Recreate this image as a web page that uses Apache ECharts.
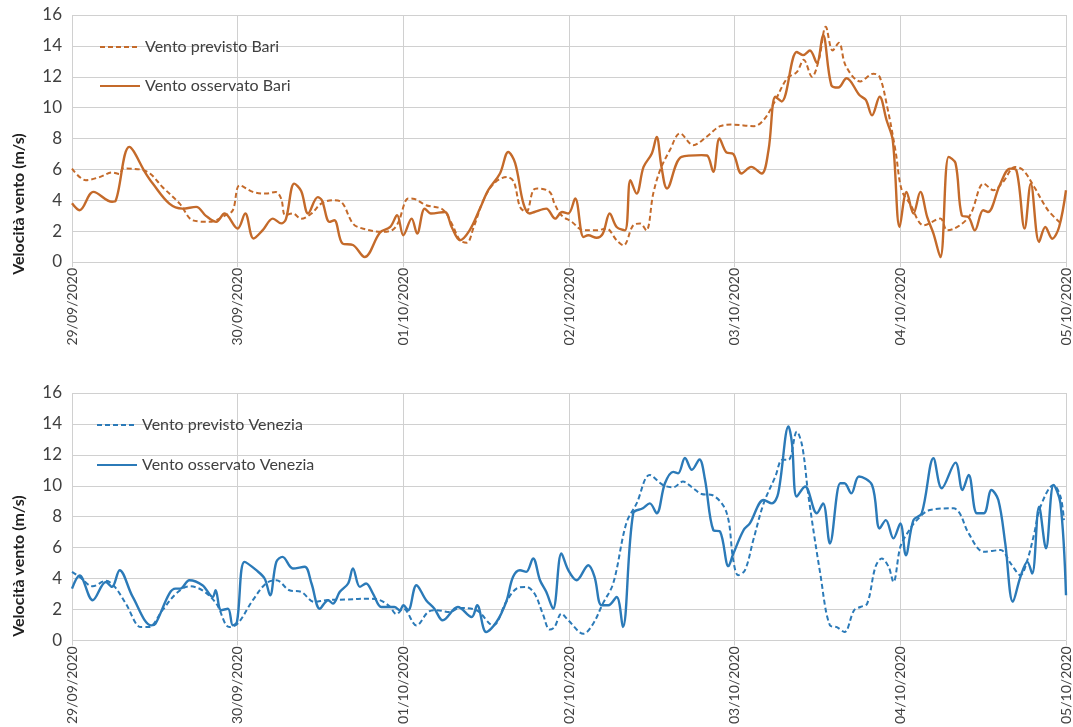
<!DOCTYPE html>
<html>
<head>
<meta charset="utf-8">
<script src="https://cdn.jsdelivr.net/npm/echarts@6/dist/echarts.min.js"></script>
<style>
  html, body { margin: 0; padding: 0; background: #fff; }
  #chart { width: 1073px; height: 727px; }
</style>
</head>
<body>
<div id="chart"></div>
<script>
// ore dall'inizio del 29/09/2020, etichette giornaliere
const dayLabels = ["29/09/2020", "30/09/2020", "01/10/2020", "02/10/2020", "03/10/2020", "04/10/2020", "05/10/2020"];
const yTicks = [0, 2, 4, 6, 8, 10, 12, 14, 16];
const yTitle = "Velocità vento (m/s)";

// [ora, m/s]
const bariPrevisto = [
  [0, 6.05], [2, 5.3], [4, 5.5], [5.8, 5.8], [6.9, 5.7], [7.4, 6.05], [9.8, 6.0], [11.3, 5.73], [13.1, 4.86],
  [15.6, 3.78], [17.5, 2.7], [19.9, 2.6], [22.3, 3.03], [23.3, 3.35], [24.3, 4.97], [26.2, 4.54], [28.1, 4.43],
  [29.5, 4.54], [30.3, 4.11], [30.9, 3.03], [32, 3.14], [33.2, 2.8], [34.7, 3.14], [36.1, 3.78], [37.8, 4.0],
  [39, 3.9], [40.7, 2.49], [42.1, 2.17], [45, 1.95], [46.5, 2.1], [47.3, 2.6], [48.7, 4.11], [49.4, 4.1],
  [51.3, 3.68], [53.7, 3.4], [55, 2.5], [56.2, 1.41], [57.2, 1.25], [58.2, 2.27], [59.6, 4.0], [61.1, 5.08],
  [63, 5.51], [64, 5.2], [64.9, 3.57], [65.8, 3.24], [66.8, 4.65], [67.4, 4.76], [69.2, 4.54], [69.9, 3.78],
  [70.9, 3.03], [72.4, 2.6], [74.1, 2.05], [76, 2.05], [77.4, 2.17], [78.9, 1.41], [79.9, 1.08], [81.3, 2.38],
  [82.3, 2.49], [83.2, 2.05], [84.2, 4.43], [85.2, 5.95], [86.6, 7.24], [88.1, 8.33], [90, 7.57], [91.9, 8.1],
  [93.9, 8.8], [95.7, 8.9], [98.8, 8.8], [100.2, 9.2], [101.7, 10.3], [103.6, 11.9], [105, 12.3], [106, 13.1],
  [107.2, 12.0], [108.2, 13.1], [109.2, 15.24], [110.2, 13.7], [111.1, 14.2], [112.1, 12.7], [114.2, 11.7],
  [116.1, 12.2], [117, 12.0], [118.1, 10.05], [119.3, 7.2], [120.2, 4.65], [121.4, 3.78], [123.4, 2.38],
  [125.8, 2.81], [126.8, 2.05], [129.9, 2.9], [132.1, 5.08], [133.5, 4.65], [134.9, 5.2], [136.6, 6.16],
  [137.8, 5.95], [139.4, 4.86], [141.4, 3.35], [143.3, 2.49]
];
const bariOsservato = [
  [0, 3.8], [1.1, 3.35], [3.1, 4.54], [5.8, 3.9], [6.3, 3.95], [8.3, 7.46], [10.7, 5.73], [11.7, 5.08],
  [14.1, 3.78], [16, 3.46], [18, 3.57], [19.4, 2.99], [20.9, 2.6], [22.1, 3.14], [24, 2.17], [25.1, 3.14],
  [26.3, 1.52], [27.6, 2.05], [29.1, 2.81], [30.3, 2.5], [31, 2.8], [32.2, 5.08], [33.2, 4.6], [34.2, 3.14],
  [35.6, 4.2], [36.2, 4.0], [37.3, 2.6], [38, 2.7], [39.2, 1.19], [40.7, 1.1], [42.4, 0.32], [44.6, 1.9],
  [46.1, 2.27], [47.1, 3.03], [48, 1.73], [49.2, 2.81], [50, 1.84], [51.1, 3.46], [52, 3.14], [54, 3.24],
  [55, 2.27], [56.2, 1.41], [57.6, 2.05], [59.1, 3.46], [60.3, 4.65], [62, 5.73], [63.2, 7.13], [64.2, 6.4],
  [65.4, 3.78], [66.3, 3.14], [67, 3.24], [68.7, 3.46], [70, 2.81], [71, 3.24], [71.9, 3.14], [72.9, 4.11],
  [74.1, 1.62], [74.8, 1.73], [76, 1.57], [76.9, 1.84], [77.9, 3.14], [78.9, 2.27], [80.1, 2.05], [80.9, 5.3],
  [81.8, 4.43], [82.8, 6.16], [84, 7.03], [84.7, 8.1], [85.4, 6.16], [86.2, 4.76], [88.3, 6.81], [91.2, 6.92],
  [92, 6.9], [92.9, 5.84], [93.8, 8.0], [94.8, 7.1], [95.8, 7.0], [97, 5.73], [98.4, 6.16], [99.9, 5.73],
  [100.9, 7.24], [101.9, 10.7], [102.8, 10.4], [105, 13.6], [105.9, 13.4], [106.9, 13.7], [107.9, 12.9],
  [108.8, 14.7], [110, 11.46], [111, 11.3], [112.2, 11.9], [114.1, 10.8], [115, 10.5], [115.9, 9.5], [117, 10.7],
  [118, 9.2], [118.9, 7.9], [119.9, 2.27], [120.9, 4.54], [121.9, 3.14], [122.9, 4.54], [123.9, 2.9],
  [124.8, 1.84], [125.8, 0.32], [127, 6.81], [128, 6.4], [128.9, 3.03], [129.9, 2.9], [130.8, 2.05], [132, 3.35],
  [132.7, 3.24], [134.4, 4.97], [135.9, 6.05], [136.8, 5.95], [138, 2.17], [138.9, 5.08], [140.1, 1.3],
  [141, 2.27], [142, 1.51], [143, 2.27], [144, 4.65]
];
const veneziaPrevisto = [
  [0, 4.43], [1.1, 4.1], [3, 3.5], [4.9, 3.85], [6.2, 3.46], [7.8, 2.38], [10, 0.86], [11.1, 0.86], [13.1, 1.95],
  [15.1, 3.03], [17, 3.5], [18.9, 3.24], [20.9, 2.38], [22.8, 0.86], [24, 1.08], [26.2, 2.6], [28.1, 3.68],
  [29.6, 3.89], [31.5, 3.24], [33.2, 3.14], [35.1, 2.49], [36.8, 2.6], [39.7, 2.64], [43.1, 2.7], [44.6, 2.6],
  [46, 2.2], [47, 1.7], [48, 2.05], [49.9, 0.97], [51.6, 1.84], [52.8, 1.95], [54.7, 1.84], [56.2, 2.1],
  [58.6, 1.95], [61, 0.97], [62.9, 2.49], [64.4, 3.35], [65.8, 3.46], [67, 3.03], [68.2, 1.73], [69.2, 0.7],
  [69.9, 0.86], [70.9, 1.73], [71.9, 1.3], [74.1, 0.43], [75.5, 1.08], [76.9, 2.38], [78.4, 3.68], [80.3, 7.57],
  [81.8, 8.86], [83.7, 10.7], [85.6, 10.05], [87.1, 9.9], [88.5, 10.27], [90, 9.84], [91.2, 9.47], [92.7, 9.4],
  [94.8, 8.3], [95.8, 5.19], [96.5, 4.22], [97.5, 4.54], [98.7, 6.49], [100.2, 8.86], [101.9, 10.6],
  [102.9, 11.68], [103.8, 11.68], [105, 13.5], [105.8, 12.54], [106.7, 9.3], [108.4, 4.32], [109.8, 0.97],
  [110.8, 0.86], [111.9, 0.54], [113.3, 1.95], [114.2, 2.16], [115.2, 2.38], [116.4, 4.76], [117.3, 5.3],
  [118.3, 4.76], [119, 3.78], [120, 6.05], [121, 6.92], [122.4, 7.78], [124.3, 8.43], [127.7, 8.54],
  [128.6, 8.22], [129.9, 6.92], [132.1, 5.73], [134.5, 5.84], [136, 4.97], [137.4, 4.22], [138.4, 5.19],
  [139.4, 6.92], [140.3, 8.65], [142.2, 10.05], [143.2, 9.3], [143.7, 7.78]
];
const veneziaOsservato = [
  [0, 3.35], [1.1, 4.2], [3, 2.6], [4.9, 3.78], [5.8, 3.46], [6.9, 4.54], [8.8, 2.81], [11.5, 0.97], [12.1, 1.08],
  [14.1, 3.03], [15, 3.35], [15.7, 3.35], [17, 3.89], [18.9, 3.57], [20.4, 2.81], [20.8, 3.24], [21.6, 1.95],
  [22.6, 2.05], [23.3, 0.97], [23.9, 1.19], [25, 5.08], [26.7, 4.54], [27.9, 4.0], [28.7, 2.92], [29.6, 5.08],
  [30.5, 5.4], [32, 4.65], [33.7, 4.76], [34.7, 3.68], [35.9, 2.05], [37.1, 2.6], [37.8, 2.38], [38.8, 3.14],
  [40, 3.68], [40.7, 4.65], [41.7, 3.46], [42.6, 3.68], [43.6, 3.03], [44.8, 2.16], [45.5, 2.16], [46.7, 2.16],
  [47.5, 1.95], [48, 2.27], [48.7, 1.95], [49.9, 3.57], [51.3, 2.6], [52.5, 2.05], [53.7, 1.3], [55.9, 2.16],
  [57.9, 1.51], [58.7, 2.27], [60, 0.54], [61.5, 1.19], [62.9, 2.49], [63.9, 4.11], [64.9, 4.54], [65.8, 4.43],
  [66.8, 5.3], [67.8, 3.89], [68.7, 3.14], [69.7, 2.05], [70.9, 5.62], [71.9, 4.54], [73.1, 3.89], [74.8, 4.86],
  [75.7, 4.11], [76.7, 2.27], [77.7, 2.27], [78.9, 2.81], [79.8, 0.86], [81.3, 8.22], [82.7, 8.54], [83.7, 8.86],
  [84.7, 8.22], [85.9, 10.16], [87.1, 10.9], [87.8, 10.8], [88.8, 11.8], [89.8, 11.03], [90.9, 11.7],
  [91.7, 10.4], [92.9, 7.14], [93.9, 7.03], [95.1, 4.8], [95.8, 5.6], [97.3, 7.14], [98.2, 7.57], [100.2, 9.08],
  [101.4, 8.86], [102.3, 9.5], [103.8, 13.84], [104.3, 12.76], [105, 9.3], [106.2, 9.95], [107.9, 8.22],
  [108.8, 8.86], [109.8, 6.27], [111.3, 10.16], [111.9, 10.16], [112.9, 9.51], [114, 10.6], [115.9, 10.05],
  [117, 7.24], [117.9, 7.78], [119, 6.6], [120, 7.57], [120.8, 5.51], [121.9, 7.78], [123.1, 8.22],
  [124.8, 11.78], [126, 9.84], [128, 11.5], [129, 9.73], [129.9, 10.7], [131.1, 8.22], [132.1, 8.22],
  [133.2, 9.73], [134.2, 9.08], [135.2, 6.27], [136.3, 2.49], [137.4, 4.11], [138.4, 5.08], [139.1, 4.32],
  [140.1, 8.65], [141.1, 5.95], [142.2, 10.05], [143.2, 8.86], [144, 2.92]
];

const arancio = "#c46a2a";
const blu = "#2b7ab8";
const txt = "#404040";
const griglia = "#d0d0d0";
const font = "Lato";

let myChart = echarts.init(document.getElementById("chart"));

const xAxisFor = (gridIndex) => ({
  type: "value",
  gridIndex: gridIndex,
  min: 0,
  max: 144,
  interval: 24,
  axisLine: { show: false },
  axisTick: { show: true, length: 5, lineStyle: { color: griglia } },
  splitLine: { show: true, lineStyle: { color: griglia, width: 1 } },
  axisLabel: {
    rotate: 90,
    fontSize: 14,
    fontFamily: font,
    color: txt,
    margin: 6,
    formatter: (v) => dayLabels[Math.round(v / 24)],
  },
});

const yAxisFor = (gridIndex) => ({
  type: "value",
  gridIndex: gridIndex,
  min: yTicks[0],
  max: yTicks[yTicks.length - 1],
  interval: 2,
  axisLine: { show: false },
  axisTick: { show: false },
  splitLine: { show: true, lineStyle: { color: griglia, width: 1 } },
  axisLabel: { fontSize: 17, fontFamily: font, color: txt, margin: 10 },
});

// titolo asse y: nel grafico originale non e' centrato sull'area del grafico
const yTitleAt = (x, y) => ({
  type: "text",
  x: x,
  y: y,
  rotation: Math.PI / 2,
  style: {
    text: yTitle,
    fontSize: 16,
    fontWeight: "bold",
    fontFamily: font,
    fill: "#202020",
    align: "center",
    verticalAlign: "middle",
  },
});

const lineSeries = (name, data, color, dashed, idx) => ({
  type: "line",
  name: name,
  xAxisIndex: idx,
  yAxisIndex: idx,
  data: data,
  smooth: 0.35,
  symbol: "none",
  lineStyle: { color: color, width: dashed ? 2 : 2.4, type: dashed ? [5, 3] : "solid" },
  itemStyle: { color: color },
  animation: false,
});

const legendFor = (names, left, top, gap) => ({
  orient: "vertical",
  left: left,
  top: top,
  itemGap: gap,
  itemWidth: 40,
  itemHeight: 14,
  itemStyle: { opacity: 0, borderWidth: 0 },
  data: names,
  textStyle: { fontSize: 16, fontFamily: font, color: txt },
});

let option = {
  backgroundColor: "#ffffff",
  grid: [
    { left: 72, right: 7, top: 15, height: 247 },
    { left: 72, right: 7, top: 393, height: 248 },
  ],
  xAxis: [xAxisFor(0), xAxisFor(1)],
  yAxis: [yAxisFor(0), yAxisFor(1)],
  graphic: [yTitleAt(19, 204), yTitleAt(19, 566)],
  legend: [
    legendFor(["Vento previsto Bari", "Vento osservato Bari"], 94, 34, 23),
    legendFor(["Vento previsto Venezia", "Vento osservato Venezia"], 91, 412, 24),
  ],
  series: [
    lineSeries("Vento previsto Bari", bariPrevisto, arancio, true, 0),
    lineSeries("Vento osservato Bari", bariOsservato, arancio, false, 0),
    lineSeries("Vento previsto Venezia", veneziaPrevisto, blu, true, 1),
    lineSeries("Vento osservato Venezia", veneziaOsservato, blu, false, 1),
  ],
};

option && myChart.setOption(option);
</script>
</body>
</html>
